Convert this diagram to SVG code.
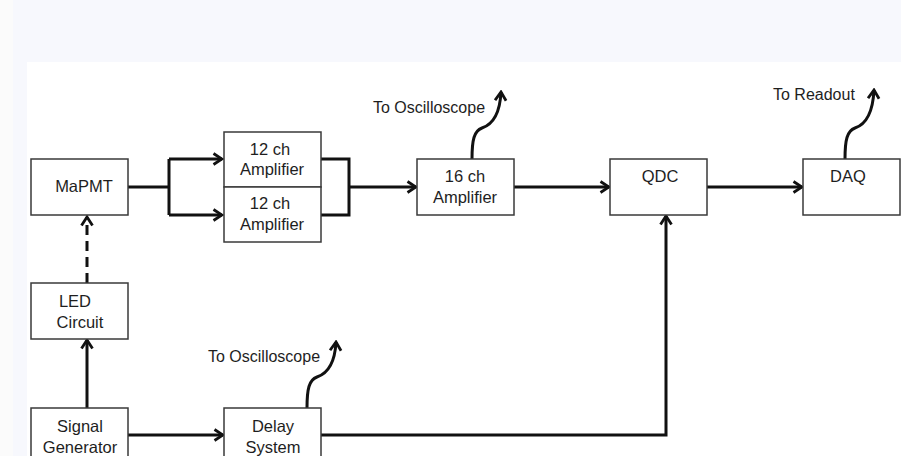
<svg xmlns="http://www.w3.org/2000/svg" width="901" height="456" viewBox="0 0 901 456">
<defs>
<style>
.box{fill:#fff;stroke:#3a3a3a;stroke-width:1.5}
.t{font-family:"Liberation Sans",Arial,sans-serif;font-size:16.5px;fill:#1e1e1e;text-anchor:middle}
.l{font-family:"Liberation Sans",Arial,sans-serif;font-size:16px;fill:#1e1e1e}
.c{fill:none;stroke:#111;stroke-width:3;stroke-linejoin:miter}
</style>
<marker id="ah" viewBox="0 0 12 14" refX="10" refY="7" markerWidth="12" markerHeight="14" orient="auto" markerUnits="userSpaceOnUse">
<path d="M1.5,1.5 L10,7 L1.5,12.5" fill="none" stroke="#111" stroke-width="2.8"/>
</marker>
</defs>
<rect x="0" y="0" width="901" height="456" fill="#fff"/>
<rect x="0" y="0" width="13" height="456" fill="#fbfbfb"/>
<rect x="13" y="0" width="888" height="62" fill="#f7f8fd"/>
<rect x="13" y="62" width="14" height="394" fill="#f7f8fd"/>

<g id="connectors">
<path class="c" d="M128,187 H169 M169,159 V215 M169,159 H222" marker-end="url(#ah)"/>
<path class="c" d="M169,215 H222" marker-end="url(#ah)"/>
<path class="c" d="M321,159 H349 V215 H321"/>
<path class="c" d="M349,187 H416" marker-end="url(#ah)"/>
<path class="c" d="M514,187 H609" marker-end="url(#ah)"/>
<path class="c" d="M707,187 H802" marker-end="url(#ah)"/>
<path class="c" d="M87,283 V217" stroke-dasharray="10,6" marker-end="url(#ah)"/>
<path class="c" d="M87,408 V340" marker-end="url(#ah)"/>
<path class="c" d="M128,435 H223" marker-end="url(#ah)"/>
<path class="c" d="M321,435 H666 V216" marker-end="url(#ah)"/>
<path class="c" d="M472,159 C472,140 474,131 482,128 C494,124 500,112 501,92" marker-end="url(#ah)"/>
<path class="c" d="M845,159 C845,140 847,131 855,128 C867,124 873,110 874,90" marker-end="url(#ah)"/>
<path class="c" d="M307,408 C307,389 309,380 317,377 C329,373 335,361 336,342" marker-end="url(#ah)"/>
</g>

<g id="mapmt"><rect class="box" x="31" y="159" width="97" height="56"/><text class="t" x="84" y="192">MaPMT</text></g>
<g id="amp12a"><rect class="box" x="224" y="132" width="97" height="55"/><text class="t" x="270" y="155">12 ch</text><text class="t" x="272" y="175">Amplifier</text></g>
<g id="amp12b"><rect class="box" x="224" y="187" width="97" height="55"/><text class="t" x="270" y="209">12 ch</text><text class="t" x="272" y="230">Amplifier</text></g>
<g id="amp16"><rect class="box" x="417" y="159" width="97" height="56"/><text class="t" x="465" y="182">16 ch</text><text class="t" x="465" y="203">Amplifier</text></g>
<g id="qdc"><rect class="box" x="610" y="159" width="97" height="56"/><text class="t" x="660" y="182">QDC</text></g>
<g id="daq"><rect class="box" x="803" y="159" width="97" height="56"/><text class="t" x="848" y="182">DAQ</text></g>
<g id="led"><rect class="box" x="31" y="283" width="97" height="56"/><text class="t" x="75" y="307">LED</text><text class="t" x="80" y="328">Circuit</text></g>
<g id="siggen"><rect class="box" x="31" y="408" width="97" height="60"/><text class="t" x="80" y="432">Signal</text><text class="t" x="80" y="453">Generator</text></g>
<g id="delay"><rect class="box" x="224" y="408" width="97" height="60"/><text class="t" x="273" y="432">Delay</text><text class="t" x="273" y="453">System</text></g>

<g id="labels">
<text class="l" x="373" y="113">To Oscilloscope</text>
<text class="l" x="773" y="100">To Readout</text>
<text class="l" x="208" y="362">To Oscilloscope</text>
</g>
</svg>
